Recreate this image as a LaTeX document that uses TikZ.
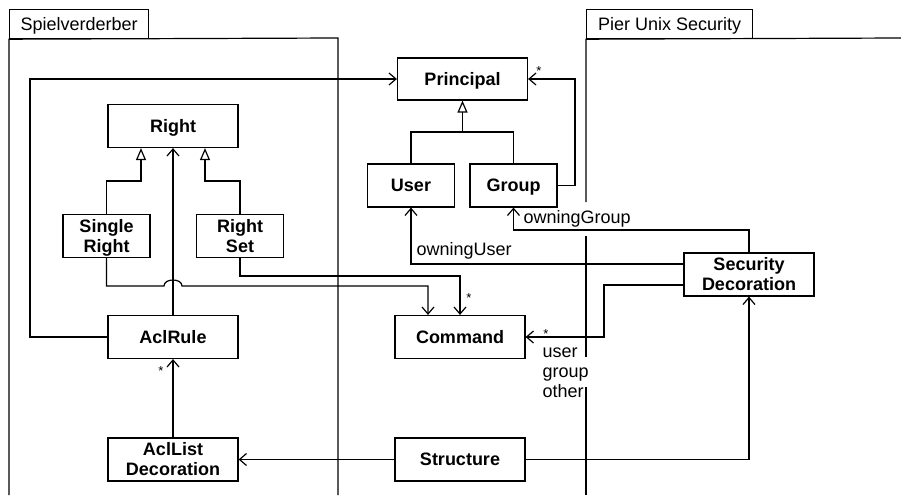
\documentclass[tikz,border=0pt]{standalone}
\usepackage{fontspec}
\setmainfont{Liberation Sans}
\usetikzlibrary{arrows.meta}
\begin{document}
\begin{tikzpicture}[x=1pt,y=-1pt, line width=1.2pt,
  every node/.style={font=\fontsize{18}{20}\selectfont},
  cls/.style={draw, fill=white, font=\fontsize{18}{20}\selectfont\bfseries, align=center, inner sep=0pt, minimum width=130pt, minimum height=43pt, text height=12.9pt, text depth=0pt},
  two/.style={text height=32.9pt, text depth=0pt},
  narrow/.style={minimum width=87pt},
  tab/.style={draw, inner sep=0pt, minimum height=29pt, anchor=north west, text height=12.9pt, text depth=0pt},
  assoc/.style={-{Straight Barb[length=7pt,width=12pt]}},
  gen/.style={-{Triangle[open,length=12pt,width=10pt,fill=white]}},
  mult/.style={font=\fontsize{13}{13}\selectfont, inner sep=0pt, anchor=base},
  lbl/.style={inner sep=0pt, anchor=base west, align=left}
]
\useasboundingbox (0,0) rectangle (901,495);
% packages
\node[tab, minimum width=139pt] (pkgA) at (9,9) {Spielverderber};
\draw (9,495) -- (pkgA.south west) -- (338,38) -- (338,495);
\node[tab, minimum width=166pt] (pkgB) at (586,9) {Pier Unix Security};
\draw (586,495) -- (586,387);
\draw (586,357) -- (586,236);
\draw (586,202) -- (pkgB.south west) -- (901,38);
% classes
\node[cls] (Right) at (173,126) {Right};
\node[cls, minimum height=42pt] (Principal) at (462.5,79) {Principal};
\node[cls, narrow] (User) at (411,185.5) {User};
\node[cls, narrow] (Group) at (513.5,185.5) {Group};
\node[cls, narrow, two] (SingleRight) at (106.5,236) {Single\\Right};
\node[cls, narrow, two] (RightSet) at (240,236) {Right\\Set};
\node[cls] (AclRule) at (173,337) {AclRule};
\node[cls, two] (AclList) at (173,459.5) {AclList\\Decoration};
\node[cls] (Command) at (460,337) {Command};
\node[cls] (Structure) at (460,459.5) {Structure};
\node[cls, two] (SecDec) at (749,274.5) {Security\\Decoration};
% generalizations
\draw[gen] (SingleRight.north) -- (106.5,181) -- (141,181) -- ([xshift=-32pt]Right.south);
\draw[gen] (RightSet.north) -- (240,181) -- (205,181) -- ([xshift=32pt]Right.south);
\draw (User.north) |- (462.5,132) -| (Group.north);
\draw[gen] (462.5,132) -- (Principal.south);
% associations
\draw[assoc] (AclRule.north) -- (Right.south);
\draw[assoc] (AclRule.west) -- (30,337) -- (30,79) -- (Principal.west);
\draw[assoc] (Group.east) -- (575,185.5) |- (Principal.east);
\node[mult] (mP) at (539,75) {*};
\draw[assoc] (SingleRight.south) |- (164,286) .. controls (164,278) and (182,278) .. (182,286) -| ([xshift=-32pt]Command.north);
\draw[assoc] (RightSet.south) -- (240,276) -| (Command.north);
\node[mult] (mC1) at (469,302) {*};
\draw[assoc] ([yshift=10.5pt]SecDec.west) -| (User.south);
\node[lbl] (lOU) at (416,255) {owningUser};
\draw[assoc] (SecDec.north) -- (749,230) -| (Group.south);
\node[lbl] (lOG) at (523,223) {owningGroup};
\draw[assoc] ([yshift=-10.5pt]SecDec.west) -- (604,285) |- (Command.east);
\node[mult] (mC2) at (546,338) {*};
\node[lbl] (lUGO) at (542,397) {user\\group\\other};
\draw[assoc] (AclList.north) -- (AclRule.south);
\node[mult] (mA) at (161,375) {*};
\draw[assoc] (Structure.west) -- (AclList.east);
\draw[assoc] (Structure.east) -| (SecDec.south);
\end{tikzpicture}
\end{document}
